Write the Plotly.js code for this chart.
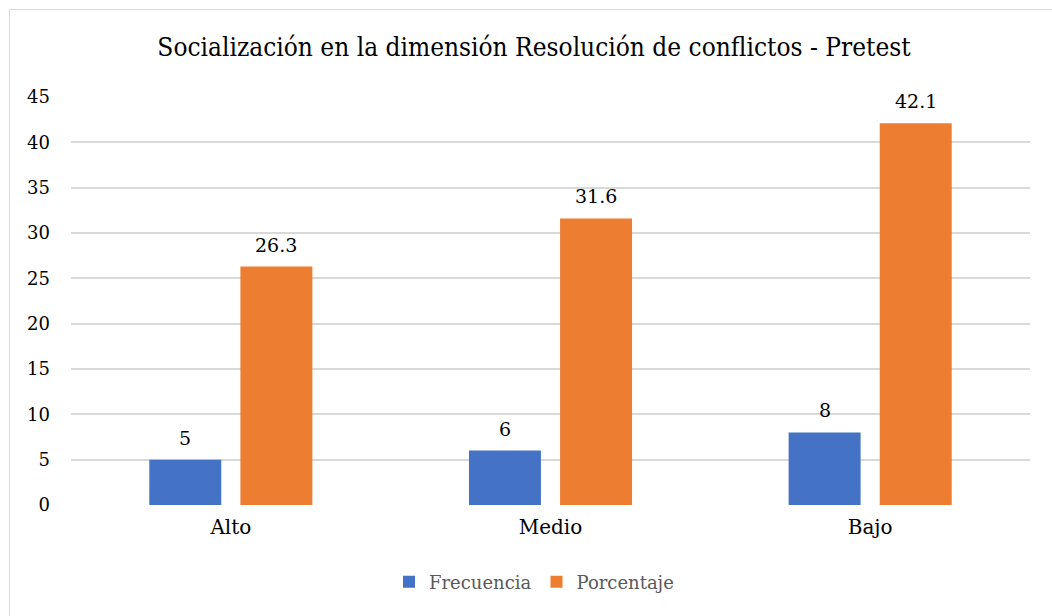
<!DOCTYPE html>
<html>
<head>
<meta charset="utf-8">
<script src="https://cdn.plot.ly/plotly-3.0.1.min.js"></script>
<style>
html,body{margin:0;padding:0;background:#fff;}
#wrap{position:relative;width:1052px;height:616px;overflow:hidden;}
#chart{position:absolute;left:0;top:0;width:1052px;height:616px;}
#frame{position:absolute;left:9px;top:9px;width:1100px;height:700px;border:1px solid #d9d9d9;pointer-events:none;}
</style>
</head>
<body>
<div id="wrap"><div id="chart"></div><div id="frame"></div></div>
<script>
const categories = ["Alto", "Medio", "Bajo"];
const frecuencia = [5, 6, 8];
const porcentaje = [26.3, 31.6, 42.1];
const seriesNames = ["Frecuencia", "Porcentaje"];
const yTicks = [0, 5, 10, 15, 20, 25, 30, 35, 40, 45];

const serif = "DejaVu Serif";
const serifC = "DejaVu Serif Condensed";
const traces = [
  {type: 'bar', name: seriesNames[0], x: categories, y: frecuencia, marker: {color: '#4472c4'}, hoverinfo: 'none'},
  {type: 'bar', name: seriesNames[1], x: categories, y: porcentaje, marker: {color: '#ed7d31'}, hoverinfo: 'none'}
];

const annotations = [];
[frecuencia, porcentaje].forEach((vals, si) => {
  vals.forEach((v, i) => {
    annotations.push({
      x: categories[i], y: v, xref: 'x', yref: 'y',
      text: String(v), showarrow: false,
      xshift: si === 0 ? -45.5 : 45.5, yshift: 22, yanchor: 'middle',
      font: {family: serif, size: 19, color: '#000'}
    });
  });
});

const layout = {
  width: 1052, height: 616,
  font: {family: serif},
  margin: {l: 71, r: 22, t: 97, b: 111},
  paper_bgcolor: '#fff', plot_bgcolor: '#fff',
  title: {text: 'Socialización en la dimensión Resolución de conflictos - Pretest', x: 534/1052, xanchor: 'center', xref: 'container', y: 1 - 47/616, yanchor: 'middle', yref: 'container',
          font: {family: serifC, size: 26, color: '#000'}},
  barmode: 'group', bargap: 0.43, bargroupgap: 0.21,
  xaxis: {type: 'category', showgrid: false, zeroline: false, showline: false, ticks: '',
          tickfont: {family: serif, size: 20, color: '#000'}, ticklabelstandoff: 8},
  yaxis: {range: [0, 45], tickvals: yTicks, ticktext: yTicks.map(String), showgrid: true, gridcolor: '#d9d9d9', gridwidth: 2,
          zeroline: false, showline: false, ticks: '', tickfont: {family: serif, size: 18, color: '#000'}, ticklabelstandoff: 20},
  showlegend: true,
  legend: {orientation: 'h', x: 534/1052, xref: 'container', xanchor: 'center', y: 34/616, yref: 'container', yanchor: 'middle',
           font: {family: serif, size: 18, color: '#595959'}, itemwidth: 30, traceorder: 'normal'},
  annotations: annotations
};

Plotly.newPlot('chart', traces, layout, {displayModeBar: false, staticPlot: true});
</script>
</body>
</html>
